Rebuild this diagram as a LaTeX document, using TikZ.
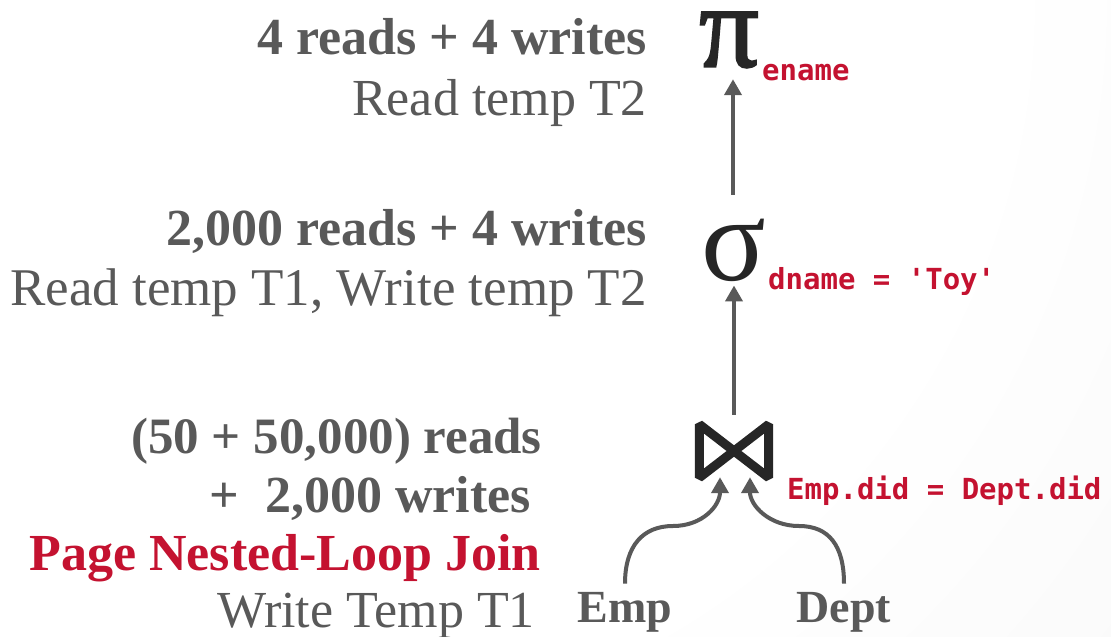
\documentclass[tikz,border=0pt]{standalone}
\usepackage{fontspec}
\setmainfont{Liberation Serif}
\newfontfamily\codefont{DejaVu Sans Mono}
\usetikzlibrary{arrows.meta}
\definecolor{txtgray}{HTML}{595959}
\definecolor{symdark}{HTML}{262626}
\definecolor{cmured}{RGB}{196,18,48}
\pgfdeclareradialshading{bgshade}{\pgfpoint{0bp}{0bp}}{color(0bp)=(white); color(9.7bp)=(white); color(25bp)=(black!6); color(50bp)=(black!6)}
\newcommand{\heavyglyph}[1]{\special{pdf:literal direct 2 Tr 2.2 w}#1\special{pdf:literal direct 0 Tr}}
\tikzset{
  costtxt/.style={anchor=base east, inner sep=0pt, text=txtgray, font=\fontsize{52}{60}\selectfont},
  costbold/.style={costtxt, font=\fontsize{52}{60}\selectfont\bfseries},
  predtxt/.style={anchor=base west, inner sep=0pt, text=cmured, font=\fontsize{29}{34}\selectfont\codefont\bfseries},
  relname/.style={anchor=base, inner sep=0pt, text=txtgray, font=\fontsize{46}{52}\selectfont\bfseries},
  opsym/.style={inner sep=0pt, text=symdark},
  flow/.style={draw=txtgray, line width=4pt, -{Triangle[length=16pt,width=17pt]}},
}
\begin{document}
\begin{tikzpicture}[x=1pt,y=-1pt]
\useasboundingbox (0,0) rectangle (1111,637);
\shade[shading=bgshade] (-1500,-1800) rectangle (2100,1800);
% left text
\node[costbold] (c1) at (647,54) {4 reads + 4 writes};
\node[costtxt] (c2) at (647,115) {Read temp T2};
\node[costbold] (c3) at (647,245) {2,000 reads + 4 writes};
\node[costtxt, font=\fontsize{53}{60}\selectfont] (c4) at (647,305) {Read temp T1, Write temp T2};
\node[costbold, font=\fontsize{51}{60}\selectfont\bfseries] (c5) at (542,453) {(50 + 50,000) reads};
\node[costbold] (c6) at (531,512) {+ \ 2,000 writes};
\node[costbold, text=cmured] (c7) at (541,570) {Page Nested-Loop Join};
\node[costtxt] (c8) at (535,627) {Write Temp T1};
% operators
\node[opsym, minimum width=62pt, minimum height=58pt] (pi) at (729,40) {\fontsize{118}{118}\selectfont\heavyglyph{π}};
\node[predtxt] (pilab) at (762,80) {ename};
\node[opsym, minimum width=65pt, minimum height=58pt] (sigma) at (734,250) {\fontsize{120}{120}\selectfont σ};
\node[predtxt] (siglab) at (768,289) {dname = 'Toy'};
\node[inner sep=0pt, minimum width=78pt, minimum height=62pt] (join) at (734,451) {};
\draw[symdark, line width=9pt, line join=bevel]
  ([shift={(4.5,4.5)}]join.north west) -- ([shift={(4.5,-4.5)}]join.south west)
  -- ([shift={(-4.5,4.5)}]join.north east) -- ([shift={(-4.5,-4.5)}]join.south east) -- cycle;
\node[predtxt] (joinlab) at (787,499) {Emp.did = Dept.did};
% relations
\node[relname] (emp) at (625,622) {Emp};
\node[relname] (dept) at (844,622) {Dept};
% connectors
\draw[flow, shorten <=5pt, shorten >=4pt] (join.north) -- (sigma.south -| join.north);
\draw[flow, shorten <=24pt, shorten >=10pt] (sigma.north -| pi.south) ++(4,0) coordinate (s1) (s1) -- (s1 |- pi.south);
\coordinate (jl) at ([xshift=-14pt, yshift=5pt]join.south);
\coordinate (jr) at ([xshift=16pt, yshift=5pt]join.south);
\draw[flow] ([yshift=8pt]emp.north) .. controls +(0,-38) and +(-30,0) .. (673,526) .. controls +(30,0) and +(0,28) .. (jl);
\draw[flow] ([yshift=8pt]dept.north) .. controls +(0,-38) and +(30,0) .. (799,526) .. controls +(-30,0) and +(0,28) .. (jr);
\end{tikzpicture}
\end{document}
